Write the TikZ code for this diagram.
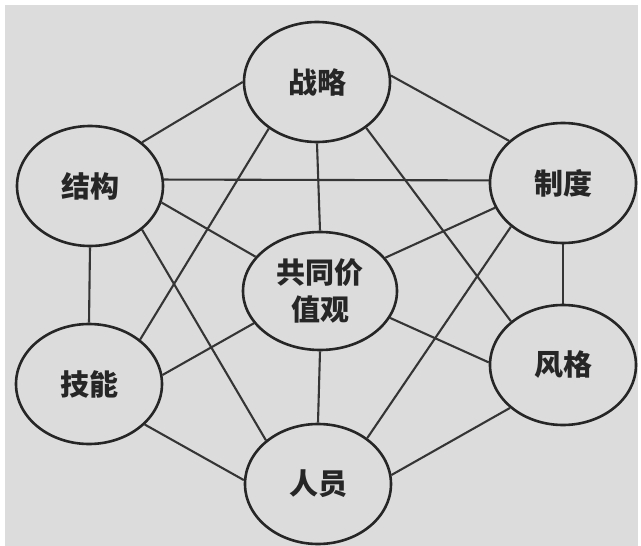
\documentclass[tikz,border=0pt]{standalone}
\usepackage{fontspec}
\newfontfamily\cjk{Noto Sans CJK SC}
\usetikzlibrary{shapes.geometric,backgrounds}
\definecolor{bggray}{HTML}{DCDCDC}
\definecolor{edgegray}{HTML}{353535}
\definecolor{rimgray}{HTML}{262626}
\tikzset{
  elem/.style={ellipse, draw=rimgray, line width=2.6pt, fill=bggray,
    minimum width=146pt, minimum height=120pt, inner sep=0pt,
    font=\cjk\bfseries\fontsize{29}{37}\selectfont, text=black!85, align=center},
  link/.style={draw=edgegray, line width=2.1pt}
}
\begin{document}
\begin{tikzpicture}[x=1pt,y=-1pt]
\useasboundingbox (0,0) rectangle (641,546);
\node[elem] (ZL) at (317,82) {战略};
\node[elem] (JG) at (90,186) {结构};
\node[elem] (ZD) at (563,183) {制度};
\node[elem,minimum width=154pt,minimum height=118pt] (GT) at (320,291) {共同价\\值观};
\node[elem] (JN) at (89,384) {技能};
\node[elem] (FG) at (563,365) {风格};
\node[elem] (RY) at (318,484) {人员};
\begin{scope}[on background layer]
\fill[white] (0,0) rectangle (641,546);
\fill[bggray] (5,5) rectangle (638,546);
\draw[link] (ZL.180) -- (JG.40);
\draw[link] (ZL.5) -- (ZD.142);
\draw[link] (ZL.south) -- (GT.north);
\draw[link] (ZL.224) -- (JN.41);
\draw[link] (ZL.317) -- (FG.140);
\draw[link] (JG.5) -- (ZD.178);
\draw[link] (JG.347) -- (GT.152);
\draw[link] (JG.south) -- (JN.north);
\draw[link] (JG.320) -- (RY.140);
\draw[link] (ZD.200) -- (GT.27);
\draw[link] (ZD.south) -- (FG.north);
\draw[link] (ZD.220) -- (RY.43);
\draw[link] (GT.206) -- (JN.7);
\draw[link] (GT.339) -- (FG.178);
\draw[link] (GT.south) -- (RY.north);
\draw[link] (JN.324) -- (RY.177);
\draw[link] (FG.219) -- (RY.7);
\end{scope}
\end{tikzpicture}
\end{document}
